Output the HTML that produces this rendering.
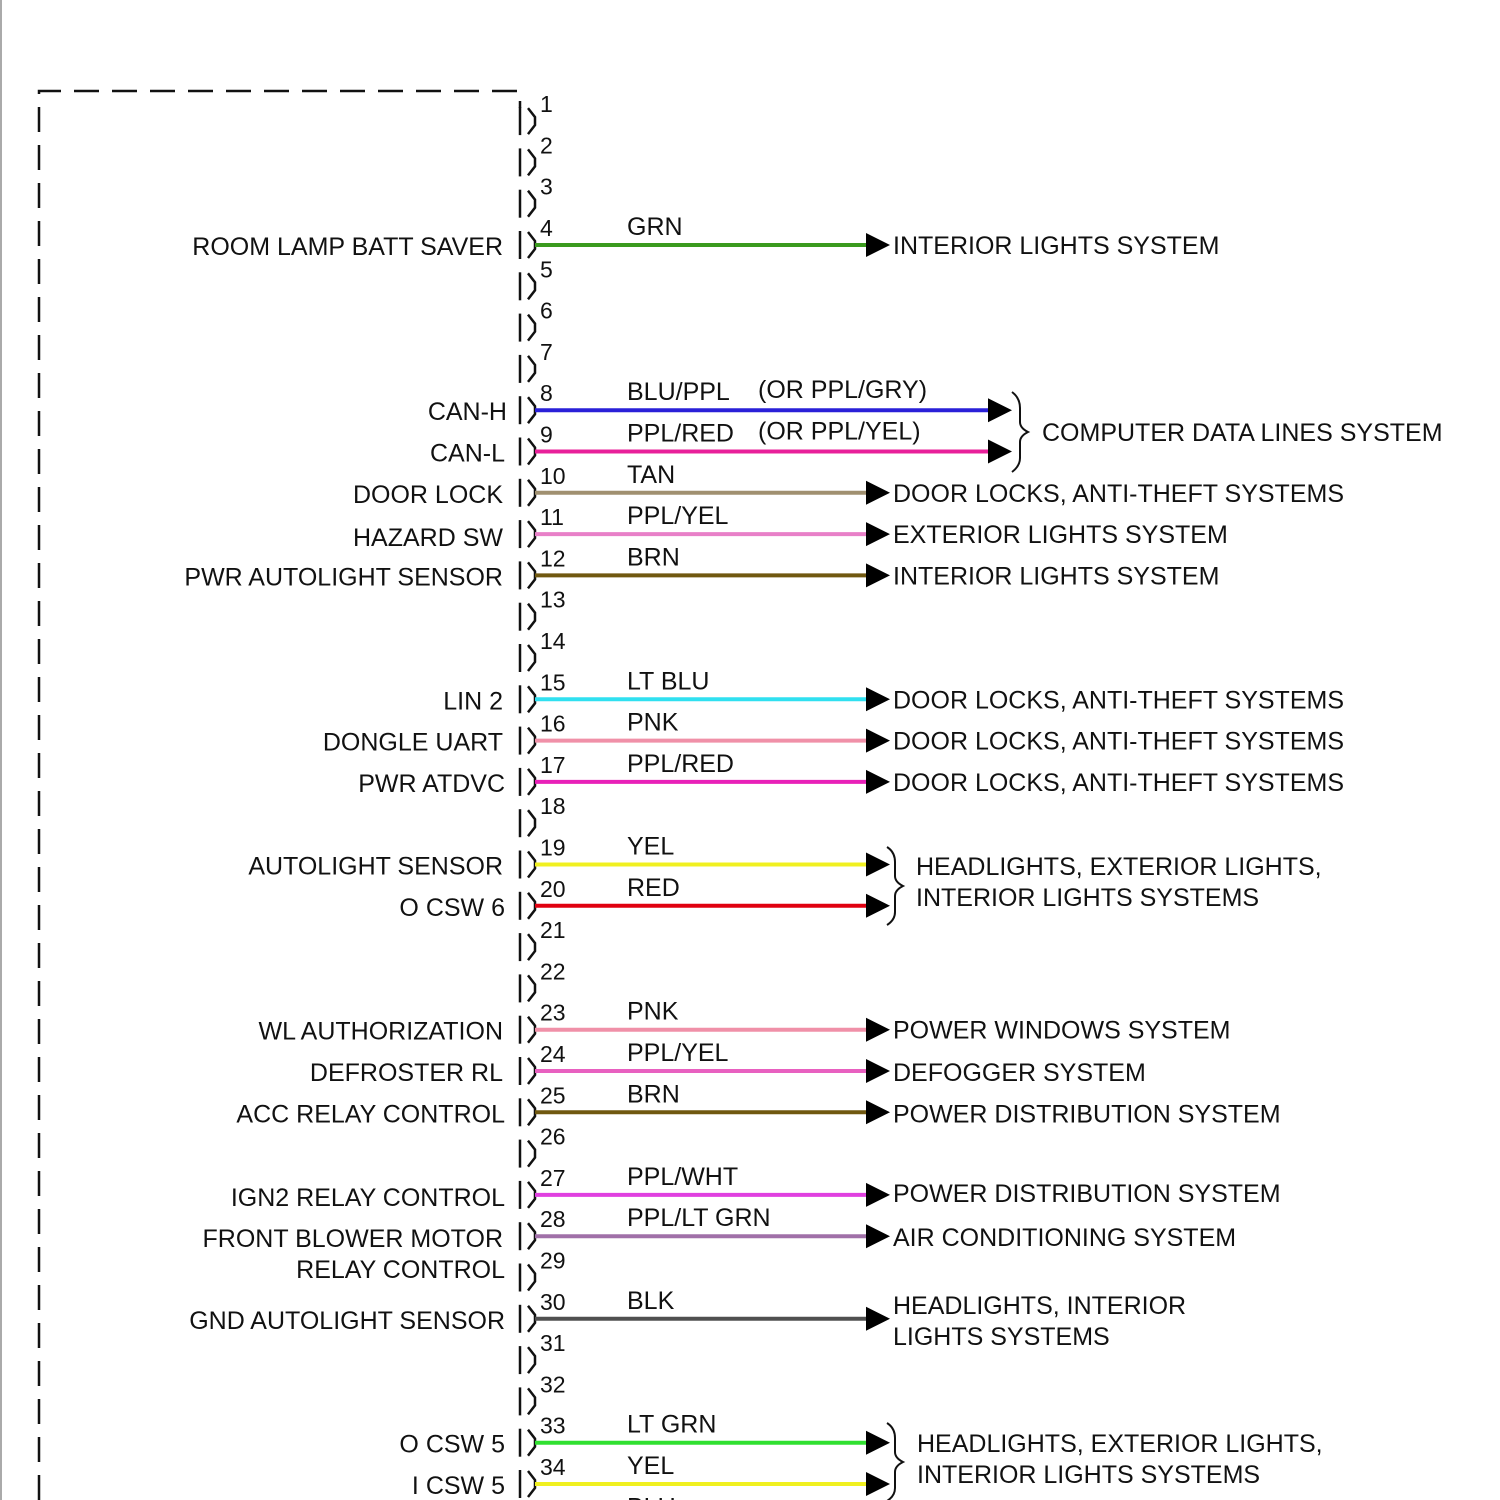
<!DOCTYPE html>
<html><head><meta charset="utf-8"><style>
html,body{margin:0;padding:0;background:#fff;width:1500px;height:1500px;overflow:hidden}
svg{display:block}
text{font-family:"Liberation Sans",Arial,sans-serif;font-size:25px;fill:#111}
.n{font-size:23px}
.l{text-anchor:end}
</style></head><body>
<svg width="1500" height="1500" viewBox="0 0 1500 1500">
<defs>
<g id="c"><line x1="520" y1="-14" x2="520" y2="14" stroke="#111" stroke-width="2.5"/><path d="M528,-13 L535,-4 L535,4 L528,13" fill="none" stroke="#111" stroke-width="2.5"/></g>
<path id="a" d="M866,-12 L890,0 L866,12 Z" fill="#000"/>
</defs>
<line x1="1" y1="0" x2="1" y2="1500" stroke="#aaa" stroke-width="2"/>
<path d="M39,1500 L39,91 L520,91 L520,108" fill="none" stroke="#111" stroke-width="2.5" stroke-dasharray="25,13"/>

<g transform="translate(0,121.1)"><use href="#c"/><text class="n" x="540" y="-9">1</text></g>
<g transform="translate(0,162.4)"><use href="#c"/><text class="n" x="540" y="-9">2</text></g>
<g transform="translate(0,203.7)"><use href="#c"/><text class="n" x="540" y="-9">3</text></g>
<g transform="translate(0,245)"><use href="#c"/><text class="n" x="540" y="-9">4</text><line x1="535" x2="868" stroke="#3a9a1e" stroke-width="4"/><use href="#a"/><text x="627" y="-10">GRN</text><text class="l" x="503" y="10">ROOM LAMP BATT SAVER</text><text x="893" y="9">INTERIOR LIGHTS SYSTEM</text></g>
<g transform="translate(0,286.3)"><use href="#c"/><text class="n" x="540" y="-9">5</text></g>
<g transform="translate(0,327.6)"><use href="#c"/><text class="n" x="540" y="-9">6</text></g>
<g transform="translate(0,368.9)"><use href="#c"/><text class="n" x="540" y="-9">7</text></g>
<g transform="translate(0,410.2)"><use href="#c"/><text class="n" x="540" y="-9">8</text><line x1="535" x2="990" stroke="#2a20d8" stroke-width="4"/><use href="#a" transform="translate(122,0)"/><text x="627" y="-10">BLU/PPL</text><text x="758" y="-12">(OR PPL/GRY)</text><text class="l" x="507" y="10">CAN-H</text></g>
<g transform="translate(0,451.5)"><use href="#c"/><text class="n" x="540" y="-9">9</text><line x1="535" x2="990" stroke="#e8209a" stroke-width="4"/><use href="#a" transform="translate(122,0)"/><text x="627" y="-10">PPL/RED</text><text x="758" y="-12">(OR PPL/YEL)</text><text class="l" x="505" y="10">CAN-L</text></g>
<path d="M1012,392 Q1020,398 1020,408 L1020,422 Q1020,428 1028,432 Q1020,436 1020,442 L1020,458 Q1020,466 1012,472" fill="none" stroke="#111" stroke-width="2"/>
<text x="1042" y="441">COMPUTER DATA LINES SYSTEM</text>
<g transform="translate(0,492.8)"><use href="#c"/><text class="n" x="540" y="-9">10</text><line x1="535" x2="868" stroke="#a09070" stroke-width="4"/><use href="#a"/><text x="627" y="-10">TAN</text><text class="l" x="503" y="10">DOOR LOCK</text><text x="893" y="9">DOOR LOCKS, ANTI-THEFT SYSTEMS</text></g>
<g transform="translate(0,534.1)"><use href="#c"/><text class="n" x="540" y="-9">11</text><line x1="535" x2="868" stroke="#e880c8" stroke-width="4"/><use href="#a"/><text x="627" y="-10">PPL/YEL</text><text class="l" x="503" y="12">HAZARD SW</text><text x="893" y="9">EXTERIOR LIGHTS SYSTEM</text></g>
<g transform="translate(0,575.4)"><use href="#c"/><text class="n" x="540" y="-9">12</text><line x1="535" x2="868" stroke="#705810" stroke-width="4"/><use href="#a"/><text x="627" y="-10">BRN</text><text class="l" x="503" y="10">PWR AUTOLIGHT SENSOR</text><text x="893" y="9">INTERIOR LIGHTS SYSTEM</text></g>
<g transform="translate(0,616.7)"><use href="#c"/><text class="n" x="540" y="-9">13</text></g>
<g transform="translate(0,658)"><use href="#c"/><text class="n" x="540" y="-9">14</text></g>
<g transform="translate(0,699.3)"><use href="#c"/><text class="n" x="540" y="-9">15</text><line x1="535" x2="868" stroke="#30e0f0" stroke-width="4"/><use href="#a"/><text x="627" y="-10">LT BLU</text><text class="l" x="503" y="10">LIN 2</text><text x="893" y="9">DOOR LOCKS, ANTI-THEFT SYSTEMS</text></g>
<g transform="translate(0,740.6)"><use href="#c"/><text class="n" x="540" y="-9">16</text><line x1="535" x2="868" stroke="#f090a8" stroke-width="4"/><use href="#a"/><text x="627" y="-10">PNK</text><text class="l" x="503" y="10">DONGLE UART</text><text x="893" y="9">DOOR LOCKS, ANTI-THEFT SYSTEMS</text></g>
<g transform="translate(0,781.9)"><use href="#c"/><text class="n" x="540" y="-9">17</text><line x1="535" x2="868" stroke="#e820b8" stroke-width="4"/><use href="#a"/><text x="627" y="-10">PPL/RED</text><text class="l" x="505" y="10">PWR ATDVC</text><text x="893" y="9">DOOR LOCKS, ANTI-THEFT SYSTEMS</text></g>
<g transform="translate(0,823.2)"><use href="#c"/><text class="n" x="540" y="-9">18</text></g>
<g transform="translate(0,864.5)"><use href="#c"/><text class="n" x="540" y="-9">19</text><line x1="535" x2="868" stroke="#f0f020" stroke-width="4"/><use href="#a"/><text x="627" y="-10">YEL</text><text class="l" x="503" y="10">AUTOLIGHT SENSOR</text></g>
<g transform="translate(0,905.8)"><use href="#c"/><text class="n" x="540" y="-9">20</text><line x1="535" x2="868" stroke="#e00010" stroke-width="4"/><use href="#a"/><text x="627" y="-10">RED</text><text class="l" x="505" y="10">O CSW 6</text></g>
<path d="M887,847 Q895,852 895,862 L895,876 Q895,882 903,886 Q895,890 895,896 L895,912 Q895,920 887,925" fill="none" stroke="#111" stroke-width="2"/>
<text x="916" y="875">HEADLIGHTS, EXTERIOR LIGHTS,</text><text x="916" y="906">INTERIOR LIGHTS SYSTEMS</text>
<g transform="translate(0,947.1)"><use href="#c"/><text class="n" x="540" y="-9">21</text></g>
<g transform="translate(0,988.4)"><use href="#c"/><text class="n" x="540" y="-9">22</text></g>
<g transform="translate(0,1029.7)"><use href="#c"/><text class="n" x="540" y="-9">23</text><line x1="535" x2="868" stroke="#f090a8" stroke-width="4"/><use href="#a"/><text x="627" y="-10">PNK</text><text class="l" x="503" y="10">WL AUTHORIZATION</text><text x="893" y="9">POWER WINDOWS SYSTEM</text></g>
<g transform="translate(0,1071)"><use href="#c"/><text class="n" x="540" y="-9">24</text><line x1="535" x2="868" stroke="#e860c0" stroke-width="4"/><use href="#a"/><text x="627" y="-10">PPL/YEL</text><text class="l" x="503" y="10">DEFROSTER RL</text><text x="893" y="10">DEFOGGER SYSTEM</text></g>
<g transform="translate(0,1112.3)"><use href="#c"/><text class="n" x="540" y="-9">25</text><line x1="535" x2="868" stroke="#705810" stroke-width="4"/><use href="#a"/><text x="627" y="-10">BRN</text><text class="l" x="505" y="10">ACC RELAY CONTROL</text><text x="893" y="10">POWER DISTRIBUTION SYSTEM</text></g>
<g transform="translate(0,1153.6)"><use href="#c"/><text class="n" x="540" y="-9">26</text></g>
<g transform="translate(0,1194.9)"><use href="#c"/><text class="n" x="540" y="-9">27</text><line x1="535" x2="868" stroke="#e040e0" stroke-width="4"/><use href="#a"/><text x="627" y="-10">PPL/WHT</text><text class="l" x="505" y="11">IGN2 RELAY CONTROL</text><text x="893" y="7">POWER DISTRIBUTION SYSTEM</text></g>
<g transform="translate(0,1236.2)"><use href="#c"/><text class="n" x="540" y="-9">28</text><line x1="535" x2="868" stroke="#a070a8" stroke-width="4"/><use href="#a"/><text x="627" y="-10">PPL/LT GRN</text><text class="l" x="503" y="11">FRONT BLOWER MOTOR</text><text x="893" y="10">AIR CONDITIONING SYSTEM</text></g>
<text class="l" x="505" y="1278">RELAY CONTROL</text>
<g transform="translate(0,1277.5)"><use href="#c"/><text class="n" x="540" y="-9">29</text></g>
<g transform="translate(0,1318.8)"><use href="#c"/><text class="n" x="540" y="-9">30</text><line x1="535" x2="868" stroke="#505050" stroke-width="4"/><use href="#a"/><text x="627" y="-10">BLK</text><text class="l" x="505" y="10">GND AUTOLIGHT SENSOR</text><text x="893" y="-5">HEADLIGHTS, INTERIOR</text><text x="893" y="26">LIGHTS SYSTEMS</text></g>
<g transform="translate(0,1360.1)"><use href="#c"/><text class="n" x="540" y="-9">31</text></g>
<g transform="translate(0,1401.4)"><use href="#c"/><text class="n" x="540" y="-9">32</text></g>
<g transform="translate(0,1442.7)"><use href="#c"/><text class="n" x="540" y="-9">33</text><line x1="535" x2="868" stroke="#30e030" stroke-width="4"/><use href="#a"/><text x="627" y="-10">LT GRN</text><text class="l" x="505" y="10">O CSW 5</text></g>
<g transform="translate(0,1484)"><use href="#c"/><text class="n" x="540" y="-9">34</text><line x1="535" x2="868" stroke="#f0f020" stroke-width="4"/><use href="#a"/><text x="627" y="-10">YEL</text><text class="l" x="505" y="10">I CSW 5</text></g>
<path d="M887,1423 Q895,1428 895,1438 L895,1452 Q895,1458 903,1462 Q895,1466 895,1472 L895,1488 Q895,1496 887,1501" fill="none" stroke="#111" stroke-width="2"/>
<text x="917" y="1452">HEADLIGHTS, EXTERIOR LIGHTS,</text><text x="917" y="1483">INTERIOR LIGHTS SYSTEMS</text>
<g transform="translate(0,1525.3)"><use href="#c"/><text class="n" x="540" y="-9">35</text><text x="627" y="-10">BLU</text></g>
</svg>
</body></html>
